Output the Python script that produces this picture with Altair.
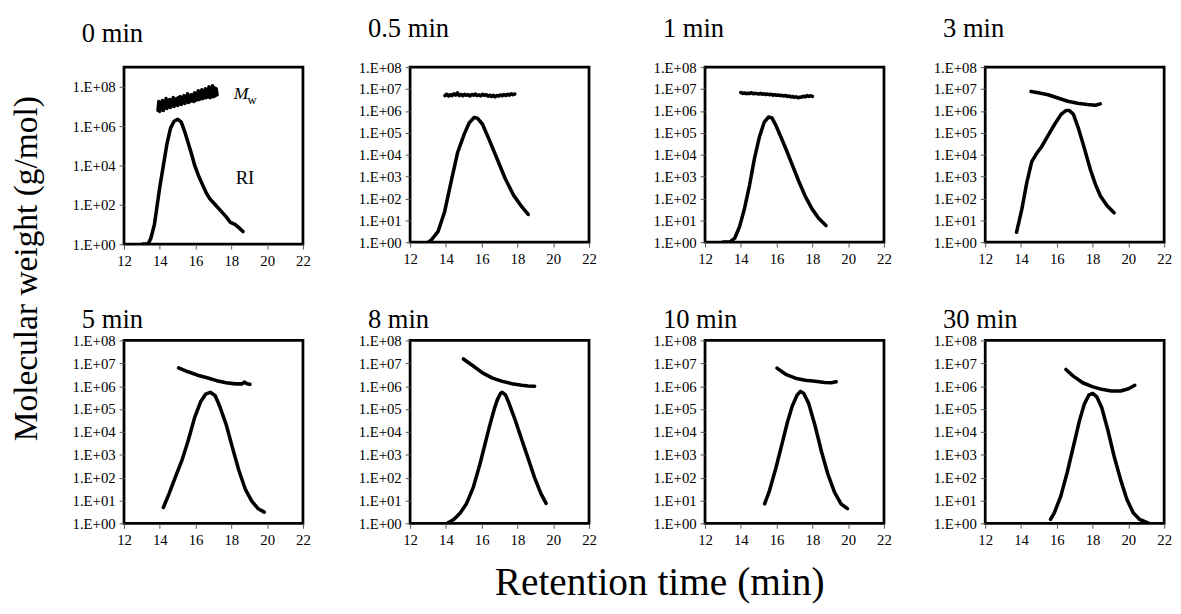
import altair as alt
import pandas as pd

FONT = "Liberation Serif"

titles = ["0 min", "0.5 min", "1 min", "3 min", "5 min", "8 min", "10 min", "30 min"]
x_ticks = [12, 14, 16, 18, 20, 22]

# ---- RI traces (retention time, log10 of plotted value) ----
ri_t = [
    [13.05, 13.35, 13.5, 13.7, 13.85, 14.0, 14.2, 14.4, 14.6, 14.8, 15.0, 15.2, 15.4, 15.6, 15.8, 15.95,
     16.2, 16.4, 16.6, 16.8, 17.0, 17.1, 17.4, 17.7, 17.95, 18.2, 18.4, 18.65],
    [13.05, 13.19, 13.56, 13.93, 14.29, 14.66, 15.03, 15.3, 15.58, 15.76, 16.04, 16.4, 16.86, 17.32,
     17.78, 18.24, 18.6],
    [13.01, 13.38, 13.66, 13.93, 14.21, 14.49, 14.76, 15.04, 15.31, 15.55, 15.74, 15.96, 16.24, 16.51,
     16.88, 17.25, 17.61, 17.98, 18.35, 18.76],
    [13.75, 14.05, 14.32, 14.6, 14.87, 15.14, 15.51, 15.88, 16.24, 16.52, 16.7, 16.93, 17.19, 17.52,
     17.88, 18.16, 18.43, 18.8, 19.2],
    [14.2, 14.52, 14.87, 15.23, 15.58, 15.94, 16.29, 16.56, 16.82, 17.09, 17.35, 17.71, 18.06, 18.42,
     18.77, 19.13, 19.48, 19.84],
    [14.08, 14.44, 14.8, 15.16, 15.53, 15.89, 16.16, 16.43, 16.7, 16.88, 17.06, 17.15, 17.33, 17.52,
     17.88, 18.24, 18.6, 18.96, 19.32, 19.6],
    [15.33, 15.6, 15.96, 16.33, 16.6, 16.87, 17.15, 17.33, 17.51, 17.78, 18.15, 18.51, 18.87, 19.24,
     19.6, 19.96],
    [15.65, 15.86, 16.22, 16.57, 16.92, 17.27, 17.54, 17.8, 18.01, 18.24, 18.51, 18.86, 19.21, 19.57,
     19.92, 20.27, 20.63, 21.15],
]
ri_log = [
    [0.0, 0.0, 0.3, 1.0, 1.95, 2.9, 4.0, 5.1, 5.9, 6.25, 6.35, 6.2, 5.7, 5.1, 4.5, 4.0,
     3.4, 3.0, 2.6, 2.3, 2.1, 2.0, 1.7, 1.4, 1.1, 1.0, 0.85, 0.64],
    [0.02, 0.1, 0.48, 1.39, 2.75, 4.11, 4.95, 5.45, 5.7, 5.67, 5.4, 4.72, 3.81, 2.9, 2.15, 1.62, 1.27],
    [0.0, 0.0, 0.18, 0.71, 1.55, 2.61, 3.82, 4.81, 5.49, 5.72, 5.68, 5.34, 4.81, 4.28, 3.52, 2.76,
     2.08, 1.52, 1.09, 0.76],
    [0.45, 1.52, 2.71, 3.68, 4.05, 4.35, 4.87, 5.39, 5.84, 6.02, 6.02, 5.84, 5.25, 4.35, 3.31, 2.64,
     2.12, 1.67, 1.34],
    [0.69, 1.3, 2.02, 2.74, 3.6, 4.61, 5.33, 5.65, 5.73, 5.59, 5.12, 4.32, 3.31, 2.31, 1.51, 0.98,
     0.65, 0.49],
    [0.0, 0.17, 0.45, 0.87, 1.57, 2.55, 3.38, 4.22, 4.99, 5.41, 5.69, 5.73, 5.62, 5.27, 4.5, 3.66,
     2.83, 1.99, 1.29, 0.87],
    [0.85, 1.42, 2.42, 3.56, 4.41, 5.12, 5.62, 5.77, 5.69, 5.27, 4.27, 3.13, 2.14, 1.35, 0.85, 0.64],
    [0.17, 0.46, 1.18, 2.19, 3.34, 4.5, 5.22, 5.62, 5.68, 5.53, 5.07, 4.06, 2.91, 1.9, 1.04, 0.46,
     0.17, 0.0],
]

# ---- Mw traces (retention time, log10 of molecular weight) ----
mw_t = [
    [13.90, 13.95, 14.00, 14.05, 14.10, 14.15, 14.20, 14.25, 14.30, 14.35, 14.40, 14.45, 14.50, 14.55,
     14.60, 14.65, 14.70, 14.75, 14.80, 14.85, 14.90, 14.95, 15.00, 15.05, 15.10, 15.15, 15.20, 15.25,
     15.30, 15.35, 15.40, 15.45, 15.50, 15.55, 15.60, 15.65, 15.70, 15.75, 15.80, 15.85, 15.90, 15.95,
     16.00, 16.05, 16.10, 16.15, 16.20, 16.25, 16.30, 16.35, 16.40, 16.45, 16.50, 16.55, 16.60, 16.65,
     16.70, 16.75, 16.80, 16.85, 16.90, 16.95, 17.00, 17.05, 17.10, 17.15, 17.20],
    [13.95, 14.05, 14.15, 14.25, 14.35, 14.45, 14.55, 14.65, 14.75, 14.85, 14.95, 15.05, 15.15, 15.25,
     15.35, 15.45, 15.55, 15.65, 15.75, 15.85, 15.95, 16.05, 16.15, 16.25, 16.35, 16.45, 16.55, 16.65,
     16.75, 16.85, 16.95, 17.05, 17.15, 17.25, 17.35, 17.45, 17.55, 17.65, 17.75, 17.85],
    [14.0, 14.1, 14.2, 14.3, 14.4, 14.5, 14.6, 14.7, 14.8, 14.9, 15.0, 15.1, 15.2, 15.3, 15.4, 15.5,
     15.6, 15.7, 15.8, 15.9, 16.0, 16.1, 16.2, 16.3, 16.4, 16.5, 16.6, 16.7, 16.8, 16.9, 17.0, 17.1,
     17.2, 17.3, 17.4, 17.5, 17.6, 17.7, 17.8, 17.9, 18.0],
    [14.56, 14.96, 15.51, 16.06, 16.61, 17.16, 17.7, 18.16, 18.43],
    [15.05, 15.58, 16.11, 16.65, 17.18, 17.71, 18.24, 18.6, 18.74, 18.86, 19.04],
    [14.98, 15.53, 16.07, 16.61, 17.15, 17.7, 18.24, 18.6, 18.96],
    [16.02, 16.51, 17.05, 17.6, 18.15, 18.69, 19.05, 19.33],
    [16.51, 16.92, 17.45, 17.98, 18.51, 19.04, 19.57, 20.01, 20.36],
]
mw_log = [
    [6.80, 7.25, 6.75, 7.20, 6.85, 7.30, 6.80, 7.15, 6.95, 7.40, 6.90, 7.25, 7.00, 7.35,
     6.95, 7.30, 7.05, 7.45, 7.00, 7.35, 7.10, 7.40, 7.05, 7.45, 7.15, 7.50, 7.10, 7.40,
     7.20, 7.55, 7.15, 7.45, 7.25, 7.65, 7.20, 7.50, 7.25, 7.60, 7.30, 7.60, 7.25, 7.70,
     7.30, 7.65, 7.35, 7.80, 7.35, 7.70, 7.40, 7.85, 7.40, 7.75, 7.45, 7.90, 7.45, 7.85,
     7.50, 8.00, 7.45, 7.90, 7.50, 8.05, 7.50, 7.95, 7.55, 7.90, 7.60],
    [6.70, 6.76, 6.68, 6.74, 6.70, 6.78, 6.72, 6.82, 6.70, 6.75, 6.69, 6.76, 6.71, 6.74,
     6.68, 6.75, 6.72, 6.77, 6.70, 6.73, 6.69, 6.76, 6.71, 6.74, 6.67, 6.72, 6.66, 6.71,
     6.64, 6.70, 6.68, 6.73, 6.69, 6.75, 6.70, 6.76, 6.72, 6.78, 6.74, 6.77],
    [6.84, 6.80, 6.82, 6.79, 6.81, 6.80, 6.83, 6.78, 6.80, 6.79, 6.77, 6.80, 6.76, 6.78,
     6.75, 6.77, 6.74, 6.76, 6.72, 6.74, 6.71, 6.73, 6.70, 6.71, 6.68, 6.70, 6.66, 6.68,
     6.64, 6.66, 6.62, 6.64, 6.60, 6.62, 6.63, 6.67, 6.64, 6.70, 6.66, 6.69, 6.66],
    [6.89, 6.83, 6.74, 6.59, 6.44, 6.35, 6.29, 6.26, 6.32],
    [6.8, 6.63, 6.48, 6.37, 6.24, 6.15, 6.1, 6.1, 6.18, 6.11, 6.08],
    [7.19, 6.88, 6.57, 6.35, 6.21, 6.11, 6.04, 6.01, 6.0],
    [6.79, 6.52, 6.35, 6.26, 6.21, 6.16, 6.15, 6.19],
    [6.73, 6.44, 6.15, 5.98, 5.86, 5.79, 5.79, 5.89, 6.04],
]

# annotation labels in the first panel (retention time, log10 value)
ann_text = ["M", "w", "RI"]
ann_t = [18.13, 18.9, 18.24]
ann_log = [7.39, 7.14, 3.04]


def panel(i, top_exp, y_vals, height, title_offset):
    rows = []
    for k, (t, v) in enumerate(zip(ri_t[i], ri_log[i])):
        rows.append({"t": t, "v": 10 ** v, "s": "RI", "o": k})
    for k, (t, v) in enumerate(zip(mw_t[i], mw_log[i])):
        rows.append({"t": t, "v": 10 ** v, "s": "Mw", "o": k})
    df = pd.DataFrame(rows)
    xs = alt.Scale(domain=[12, 22], nice=False, zero=False)
    ys = alt.Scale(type="log", domain=[1, 10 ** top_exp], nice=False)
    xax = alt.Axis(values=x_ticks, title=None, grid=False, domain=False, labelFont=FONT,
                   labelFontSize=15, labelColor="black", tickColor="#555", tickSize=5,
                   labelPadding=5, labelFlush=False, labelOverlap=False)
    yax = alt.Axis(values=y_vals, title=None, grid=False, domain=False, labelFont=FONT,
                   labelFontSize=15, labelColor="black", tickColor="#555", tickSize=5,
                   labelPadding=4, labelFlush=False, labelOverlap=False,
                   labelExpr="'1.E+0' + round(log(datum.value) / LN10)")
    X = alt.X("t:Q", scale=xs, axis=xax)
    Y = alt.Y("v:Q", scale=ys, axis=yax)
    lines = alt.Chart(df).mark_line(color="black", strokeWidth=3.6, clip=True,
                                    strokeJoin="round", strokeCap="round").encode(
        x=X, y=Y, detail="s:N", order="o:Q",
    )
    layers = [lines]
    if i == 0:
        adf = pd.DataFrame({"t": ann_t, "v": [10 ** v for v in ann_log], "txt": ann_text})
        m = alt.Chart(adf[adf.txt == "M"]).mark_text(
            font=FONT, fontSize=18, fontStyle="italic", align="left", baseline="alphabetic",
            color="black").encode(x=X, y=Y, text="txt:N")
        w = alt.Chart(adf[adf.txt == "w"]).mark_text(
            font=FONT, fontSize=13, align="left", baseline="alphabetic",
            color="black").encode(x=X, y=Y, text="txt:N")
        ri = alt.Chart(adf[adf.txt == "RI"]).mark_text(
            font=FONT, fontSize=19, align="left", baseline="alphabetic",
            color="black").encode(x=X, y=Y, text="txt:N")
        layers += [m, w, ri]
    return alt.layer(*layers).properties(
        width=182, height=height,
        title=alt.TitleParams(titles[i], anchor="start", font=FONT, fontSize=27,
                              fontWeight="normal", color="black", offset=title_offset, dx=10),
    )


all_dec = [1, 1e1, 1e2, 1e3, 1e4, 1e5, 1e6, 1e7, 1e8]
even_dec = [1, 1e2, 1e4, 1e6, 1e8]

panels = [panel(0, 9, even_dec, 180, 20)]
for i in range(1, 4):
    panels.append(panel(i, 8, all_dec, 178, 18))
for i in range(4, 8):
    panels.append(panel(i, 8, all_dec, 186, 0))


def row(p):
    left = alt.hconcat(p[0], p[1], spacing=45)
    right = alt.hconcat(p[2], p[3], spacing=39)
    return alt.hconcat(left, right, spacing=54)


row1 = row(panels[:4])
row2 = row(panels[4:])

inner = alt.vconcat(row1, row2, spacing=34).properties(
    title=alt.TitleParams("Molecular weight (g/mol)", orient="left", anchor="middle", font=FONT,
                          fontSize=34, fontWeight="normal", color="black", offset=27, dx=13)
)

chart = alt.vconcat(inner).properties(
    title=alt.TitleParams("Retention time (min)", orient="bottom", anchor="middle", font=FONT,
                          fontSize=40, fontWeight="normal", color="black", offset=15, dx=69),
    padding={"left": 2, "top": 0, "right": 0, "bottom": 0},
    background="white",
).configure_view(stroke="black", strokeWidth=2.8)

chart.save("out.html", embed_options={"renderer": "svg", "actions": False})
